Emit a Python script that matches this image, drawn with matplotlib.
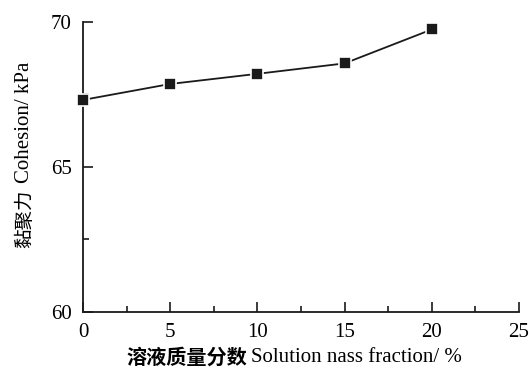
import matplotlib.pyplot as plt
from matplotlib.ticker import MultipleLocator

plt.rcParams['font.family'] = ['Liberation Serif', 'Noto Sans CJK SC']

# data
frac = [0, 5, 10, 15, 20]
cohesion = [67.31, 67.86, 68.21, 68.57, 69.74]

fig = plt.figure(figsize=(5.29, 3.78), dpi=100)
ax = fig.add_axes([0.157, 0.175, 0.824, 0.767])

ax.plot(frac, cohesion, color='#1a1a1a', lw=1.3, marker='s', ms=8,
        mfc='#1a1a1a', mec='white', mew=1.2, clip_on=False, zorder=3)

ax.set_xlim(0, 25)
ax.set_ylim(60, 70)
ax.xaxis.set_major_locator(MultipleLocator(5))
ax.xaxis.set_minor_locator(MultipleLocator(2.5))
ax.yaxis.set_major_locator(MultipleLocator(5))
ax.yaxis.set_minor_locator(MultipleLocator(2.5))
ax.tick_params(which='major', direction='in', length=7, width=1.2, labelsize=15, pad=8, color='#1a1a1a')
ax.tick_params(which='minor', direction='in', length=4, width=1.2, color='#1a1a1a')
for s in ['top', 'right']:
    ax.spines[s].set_visible(False)
for s in ['left', 'bottom']:
    ax.spines[s].set_linewidth(1.3)
    ax.spines[s].set_color('#1a1a1a')

# y label: Chinese + English as two pieces
fig.text(0.047, 0.50, '黏聚力', fontsize=14, family='Noto Sans CJK SC',
         rotation=90, ha='center', va='top')
fig.text(0.047, 0.515, 'Cohesion/ kPa', fontsize=15, rotation=90,
         ha='center', va='bottom')

# x label
fig.text(0.468, 0.055, '溶液质量分数', fontsize=14.5, fontweight='bold',
         family='Noto Sans CJK SC', ha='right', va='center')
fig.text(0.474, 0.055, 'Solution nass fraction/ %', fontsize=15,
         ha='left', va='center')

fig.savefig('out.png', dpi=100)
